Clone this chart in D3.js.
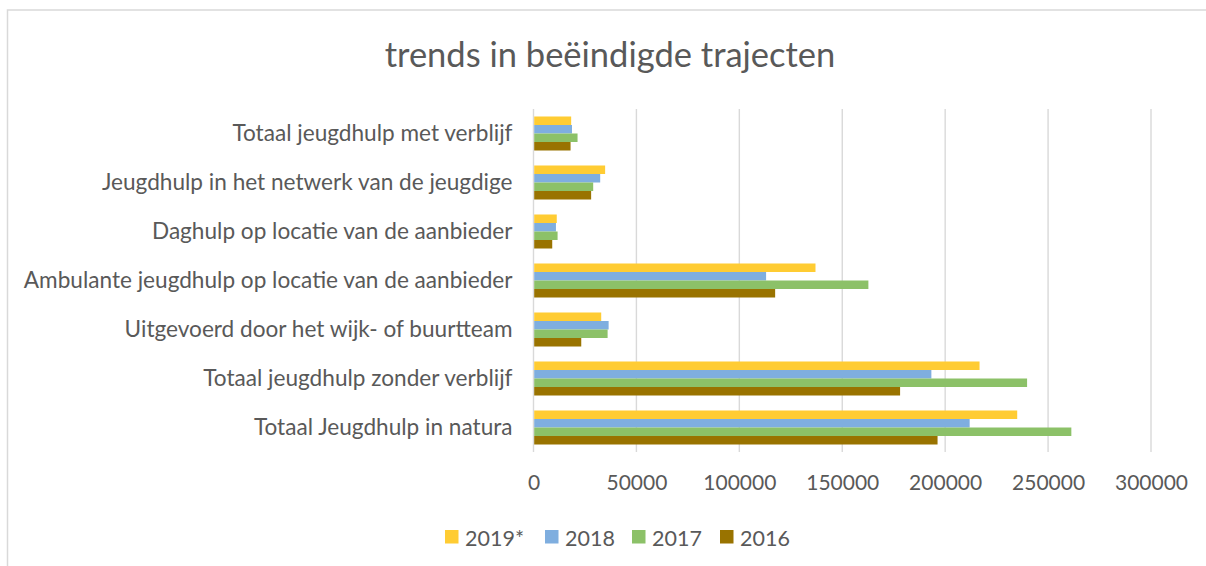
<!DOCTYPE html>
<html>
<head>
<meta charset="utf-8">
<script src="https://cdn.jsdelivr.net/npm/d3@7/dist/d3.min.js"></script>
<style>
  html, body { margin: 0; padding: 0; background: #fff; }
  svg { display: block; }
  text { font-family: Lato, "Open Sans", sans-serif; fill: #595959; }
</style>
</head>
<body>
<svg id="chart" width="1206" height="566"></svg>
<script>
// Trajectory categories, top to bottom
const categories = [
  "Totaal jeugdhulp met verblijf",
  "Jeugdhulp in het netwerk van de jeugdige",
  "Daghulp op locatie van de aanbieder",
  "Ambulante jeugdhulp op locatie van de aanbieder",
  "Uitgevoerd door het wijk- of buurtteam",
  "Totaal jeugdhulp zonder verblijf",
  "Totaal Jeugdhulp in natura"
];

// Series (years), in the order the bars are stacked inside each group
const seriesNames = ["2019*", "2018", "2017", "2016"];
const seriesColors = ["#FFCC33", "#7FAEDF", "#8CC168", "#997300"];

// Ended trajectories per category, one array per year
const values2019 = [18300, 34800, 11300, 137000, 32900, 216700, 235000];
const values2018 = [18700, 32400, 10900, 113000, 36500, 193300, 211900];
const values2017 = [21400, 29000, 11700, 162700, 36000, 239800, 261300];
const values2016 = [18000, 28000, 9100, 117400, 23200, 178100, 196300];
const seriesValues = [values2019, values2018, values2017, values2016];

// Value axis ticks
const tickValues = [0, 50000, 100000, 150000, 200000, 250000, 300000];

const title = "trends in beëindigde trajecten";

const svg = d3.select("#chart");
const W = 1206, H = 566;

// Chart frame
svg.append("rect")
  .attr("x", 7.5).attr("y", 10)
  .attr("width", W + 20).attr("height", H + 20)
  .attr("fill", "#fff")
  .attr("stroke", "#d9d9d9")
  .attr("stroke-width", 1.5);

// Title
svg.append("text")
  .attr("x", 610).attr("y", 67)
  .attr("text-anchor", "middle")
  .style("font-size", "34.5px")
  .text(title);

const plot = { left: 533.5, right: 1151, top: 109, bottom: 452 };

const x = d3.scaleLinear()
  .domain([0, 300000])
  .range([plot.left, plot.right]);

const y = d3.scaleBand()
  .domain(categories)
  .range([plot.top, plot.bottom])
  .paddingInner(0.306)
  .paddingOuter(0.153);

const ySub = d3.scaleBand()
  .domain(seriesNames)
  .range([0, y.bandwidth()])
  .padding(0);

// Vertical gridlines
svg.append("g")
  .selectAll("line")
  .data(tickValues)
  .join("line")
  .attr("x1", d => x(d)).attr("x2", d => x(d))
  .attr("y1", plot.top).attr("y2", plot.bottom)
  .attr("stroke", "#d9d9d9")
  .attr("stroke-width", 1.4);

// Bars
const rows = categories.map((c, i) => ({
  category: c,
  items: seriesNames.map((s, j) => ({ series: s, color: seriesColors[j], value: seriesValues[j][i] }))
}));

const groups = svg.append("g")
  .selectAll("g")
  .data(rows)
  .join("g")
  .attr("transform", d => `translate(0,${y(d.category)})`);

groups.selectAll("rect")
  .data(d => d.items)
  .join("rect")
  .attr("x", x(0) + 0.7)
  .attr("y", d => ySub(d.series))
  .attr("width", d => x(d.value) - x(0) - 0.7)
  .attr("height", ySub.bandwidth())
  .attr("fill", d => d.color);

// Category axis labels
const yAxis = d3.axisLeft(y).tickSize(0).tickPadding(21);
const yg = svg.append("g")
  .attr("transform", `translate(${plot.left},0)`)
  .call(yAxis);
yg.select(".domain").remove();
yg.selectAll("text")
  .style("font-size", "22.6px")
  .attr("fill", "#595959")
  .attr("font-family", "Lato");

// Value axis labels
const xAxis = d3.axisBottom(x).tickValues(tickValues).tickSize(0).tickPadding(0)
  .tickFormat(d3.format("d"));
const xg = svg.append("g")
  .attr("transform", `translate(0,${plot.bottom + 23})`)
  .call(xAxis);
xg.select(".domain").remove();
xg.selectAll("text")
  .style("font-size", "21px")
  .attr("fill", "#595959")
  .attr("font-family", "Lato");

// Legend
const legendItems = [
  { name: seriesNames[0], color: seriesColors[0], x: 445 },
  { name: seriesNames[1], color: seriesColors[1], x: 545 },
  { name: seriesNames[2], color: seriesColors[2], x: 632 },
  { name: seriesNames[3], color: seriesColors[3], x: 720 }
];
const lg = svg.append("g")
  .selectAll("g")
  .data(legendItems)
  .join("g")
  .attr("transform", d => `translate(${d.x},530)`);
lg.append("rect")
  .attr("width", 13.5).attr("height", 13.5)
  .attr("fill", d => d.color);
lg.append("text")
  .attr("x", 20).attr("y", 7.5)
  .attr("dominant-baseline", "central")
  .style("font-size", "21.5px")
  .text(d => d.name);
</script>
</body>
</html>
